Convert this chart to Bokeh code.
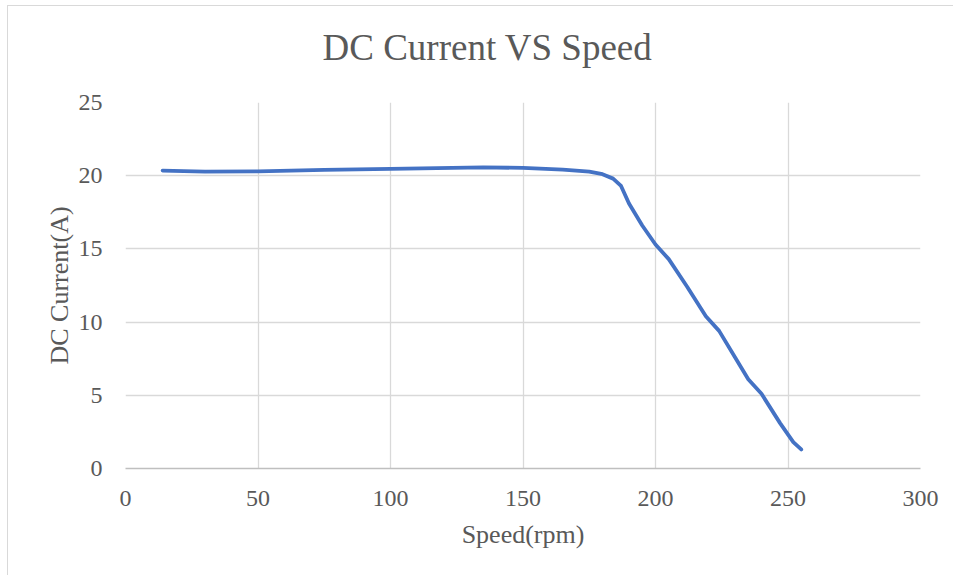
from bokeh.plotting import figure
from bokeh.models import ColumnDataSource, FixedTicker, Range1d, Title
from bokeh.embed import file_html
from bokeh.resources import INLINE

speed = [14, 30, 50, 75, 100, 135, 150, 165, 175, 180, 184, 187, 190, 195, 200, 205, 212, 219, 224, 230, 235, 240, 247, 252, 255]
current = [20.35, 20.28, 20.3, 20.4, 20.47, 20.57, 20.53, 20.42, 20.28, 20.1, 19.8, 19.3, 18.1, 16.6, 15.3, 14.3, 12.4, 10.4, 9.4, 7.6, 6.1, 5.1, 3.1, 1.8, 1.3]
x_ticks = [0, 50, 100, 150, 200, 250, 300]
y_ticks = [0, 5, 10, 15, 20, 25]
title_text = "DC Current VS Speed"

FONT = "Liberation Serif"
TXT = "#595959"

p = figure(width=946, height=570, output_backend="svg", toolbar_location=None,
           x_range=Range1d(0, 300), y_range=Range1d(0, 25),
           min_border_left=117, min_border_right=34, min_border_top=96, min_border_bottom=108)
p.title = Title(text=title_text, align="left", offset=197, vertical_align="bottom",
                text_font=FONT, text_font_size="37px", text_color=TXT,
                text_font_style="normal", standoff=0)
p.title_location = "above"
# spacer between title and plot area
p.add_layout(Title(text=" ", text_font_size="1px", standoff=32), "above")

src = ColumnDataSource(dict(x=speed, y=current))
p.line("x", "y", source=src, line_color="#4472C4", line_width=3.8, line_join="round", line_cap="round")

p.xaxis.ticker = FixedTicker(ticks=x_ticks)
p.yaxis.ticker = FixedTicker(ticks=y_ticks)
for ax in (p.xaxis, p.yaxis):
    ax.major_label_text_font = FONT
    ax.major_label_text_font_size = "24px"
    ax.major_label_text_color = TXT
    ax.axis_label_text_font = FONT
    ax.axis_label_text_font_size = "26px"
    ax.axis_label_text_color = TXT
    ax.axis_label_text_font_style = "normal"
    ax.major_tick_line_color = None
    ax.minor_tick_line_color = None
p.xaxis.axis_label = "Speed(rpm)"
p.yaxis.axis_label = "DC Current(A)"
p.xaxis.axis_line_color = "#bfbfbf"
p.xaxis.axis_line_width = 1.3
p.yaxis.axis_line_color = None
p.xaxis.major_label_standoff = 16
p.yaxis.major_label_standoff = 17
p.xaxis.axis_label_standoff = 11
p.yaxis.axis_label_standoff = 2

p.xgrid.grid_line_color = "#d9d9d9"
p.ygrid.grid_line_color = "#d9d9d9"
p.xgrid.grid_line_width = 1.3
p.ygrid.grid_line_width = 1.3
p.outline_line_color = None
p.background_fill_color = "white"
p.border_fill_color = "white"
p.styles = {"border-left": "1px solid #d9d9d9", "border-top": "1px solid #d9d9d9",
            "margin": "5px 0 0 7px"}

open("out.html", "w").write(file_html(p, INLINE))
